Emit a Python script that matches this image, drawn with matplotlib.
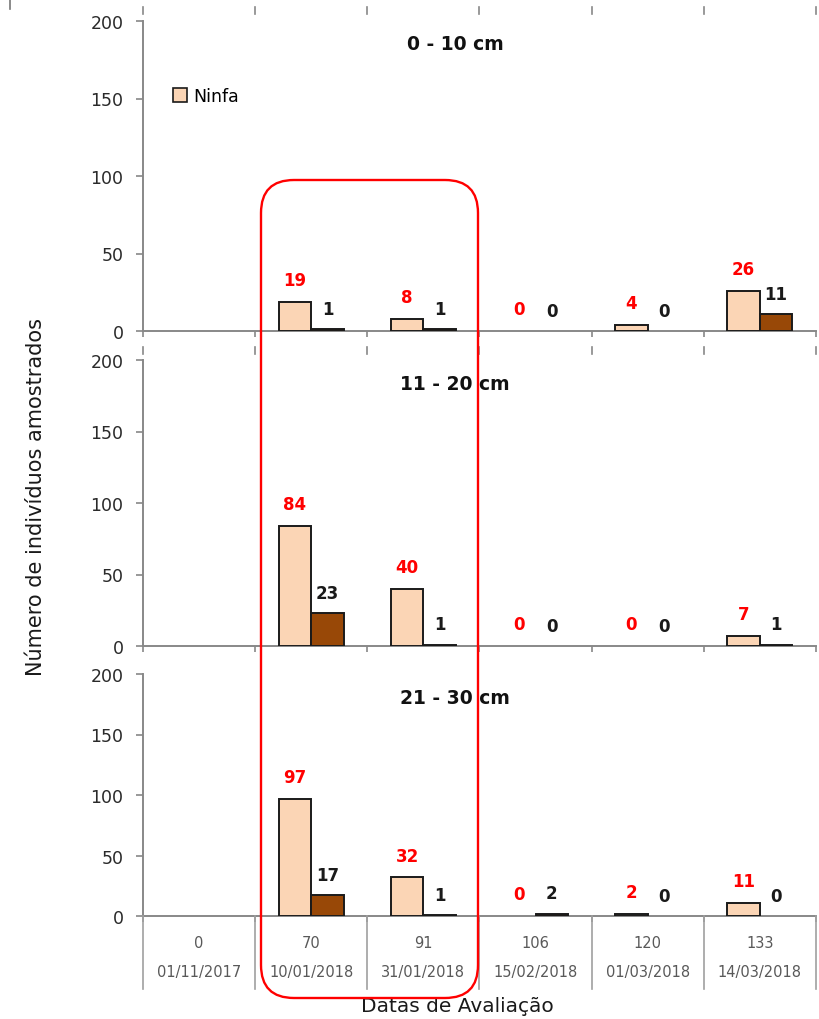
import numpy as np
import matplotlib
matplotlib.use("Agg")
import matplotlib.pyplot as plt
from matplotlib.patches import FancyBboxPatch, Patch
from matplotlib.lines import Line2D
from matplotlib.transforms import blended_transform_factory

# ---- data -------------------------------------------------------------
days = ["0", "70", "91", "106", "120", "133"]
dates = ["01/11/2017", "10/01/2018", "31/01/2018", "15/02/2018", "01/03/2018", "14/03/2018"]
depths = ["0 - 10 cm", "11 - 20 cm", "21 - 30 cm"]

nymph_0_10 = [np.nan, 19, 8, 0, 4, 26]
adult_0_10 = [np.nan, 1, 1, 0, 0, 11]
nymph_11_20 = [np.nan, 84, 40, 0, 0, 7]
adult_11_20 = [np.nan, 23, 1, 0, 0, 1]
nymph_21_30 = [np.nan, 97, 32, 0, 2, 11]
adult_21_30 = [np.nan, 17, 1, 2, 0, 0]

nymph = [nymph_0_10, nymph_11_20, nymph_21_30]
adult = [adult_0_10, adult_11_20, adult_21_30]

# ---- style ------------------------------------------------------------
NYMPH_C = "#FBD5B5"
ADULT_C = "#984807"
AXIS_C = "#888888"
W, H = 820, 1020
plt.rcParams["font.family"] = ["DejaVu Sans"]

fig = plt.figure(figsize=(W / 100, H / 100), dpi=100)


def frac_rect(left, right, top, bottom):
    return [left / W, 1 - bottom / H, (right - left) / W, (bottom - top) / H]


panel_px = [(22, 332), (361, 647), (675, 917)]
x = np.arange(len(days))
bw = 0.29
axes = []
for k, (top, bottom) in enumerate(panel_px):
    ax = fig.add_axes(frac_rect(143, 816, top, bottom))
    axes.append(ax)
    ny = np.array(nymph[k], dtype=float)
    ad = np.array(adult[k], dtype=float)
    m_n = np.isfinite(ny) & (ny > 0)
    m_a = np.isfinite(ad) & (ad > 0)
    ax.bar(x[m_n] - bw / 2, ny[m_n], bw, color=NYMPH_C,
           edgecolor="#1a1a1a", linewidth=1.4, zorder=3)
    ax.bar(x[m_a] + bw / 2, ad[m_a], bw, color=ADULT_C,
           edgecolor="#1a1a1a", linewidth=1.4, zorder=3)
    for i in range(len(days)):
        if np.isfinite(ny[i]):
            ax.annotate(f"{int(ny[i])}", (x[i] - bw / 2, ny[i]), xytext=(0, 12),
                        textcoords="offset points", ha="center", va="baseline",
                        color="#FF0000", fontsize=12, fontweight="bold")
        if np.isfinite(ad[i]):
            ax.annotate(f"{int(ad[i])}", (x[i] + bw / 2, ad[i]), xytext=(0, 11),
                        textcoords="offset points", ha="center", va="baseline",
                        color="#1a1a1a", fontsize=12, fontweight="bold")

    ax.set_xlim(-0.5, len(days) - 0.5)
    ax.set_ylim(0, 200)
    ax.set_yticks([0, 50, 100, 150, 200])
    ax.tick_params(axis="y", direction="out", length=5, width=1.2, color=AXIS_C,
                   labelsize=12.5, labelcolor="#2a2a2a", pad=9)
    ax.set_xticks(np.arange(len(days) + 1) - 0.5)
    ax.set_xticklabels([])
    ax.tick_params(axis="x", direction="out", length=4.5, width=1.2, color=AXIS_C)
    for s in ("top", "right"):
        ax.spines[s].set_visible(False)
    for s in ("left", "bottom"):
        ax.spines[s].set_color(AXIS_C)
        ax.spines[s].set_linewidth(1.4)
    ax.patch.set_alpha(0)

    fig.text(455 / W, 1 - (top + 23) / H, depths[k], ha="center", va="center",
             fontsize=13.5, fontweight="bold", color="#111111")

    if k == 0:
        ax.legend(handles=[Patch(facecolor=NYMPH_C, edgecolor="#1a1a1a", linewidth=1.2)],
                  labels=["Ninfa"], loc="center left",
                  bbox_to_anchor=(173 / W, 1 - 97 / H), bbox_transform=fig.transFigure,
                  frameon=False, fontsize=12.5, handlelength=0.8, handleheight=0.8,
                  handletextpad=0.35, borderpad=0, borderaxespad=0)

# small detached tick marks above the upper panels
bounds = np.arange(len(days) + 1) - 0.5
for yy in (8, 348):
    tr = blended_transform_factory(axes[0].transData, fig.transFigure)
    for b in bounds:
        fig.add_artist(Line2D([b, b], [1 - yy / H, 1 - (yy + 7) / H], transform=tr,
                              color=AXIS_C, lw=1.2))
fig.add_artist(Line2D([10 / W, 10 / W], [1, 1 - 10 / H], transform=fig.transFigure,
                      color="#777777", lw=1.2))

# category table under the bottom panel
ax3 = axes[-1]
bottom3 = panel_px[-1][1]
tr3 = blended_transform_factory(ax3.transData, fig.transFigure)
for b in bounds:
    fig.add_artist(Line2D([b, b], [1 - bottom3 / H, 1 - 990 / H], transform=tr3,
                          color="#a0a0a0", lw=1.2))
for i in range(len(days)):
    fig.text(x[i], 1 - 943 / H, days[i], transform=tr3, ha="center", va="center",
             fontsize=10.5, color="#595959")
    fig.text(x[i], 1 - 973 / H, dates[i], transform=tr3, ha="center", va="center",
             fontsize=10.5, color="#595959")

fig.text(457 / W, 1 - 1007 / H, "Datas de Avaliação", ha="center", va="center",
         fontsize=14.5, color="#1a1a1a")
fig.text(36 / W, 1 - 497 / H, "Número de indivíduos amostrados", ha="center",
         va="center", rotation=90, fontsize=15, color="#1a1a1a")

# highlight box around the 70- and 91-day evaluations
box = FancyBboxPatch((2.61, (H - 999) / 100), 2.17, (999 - 181) / 100,
                     boxstyle="round,pad=0,rounding_size=0.33",
                     transform=fig.dpi_scale_trans, fill=False,
                     edgecolor="#FF0000", linewidth=1.7, zorder=10)
fig.add_artist(box)

fig.savefig("out.png", dpi=100)
